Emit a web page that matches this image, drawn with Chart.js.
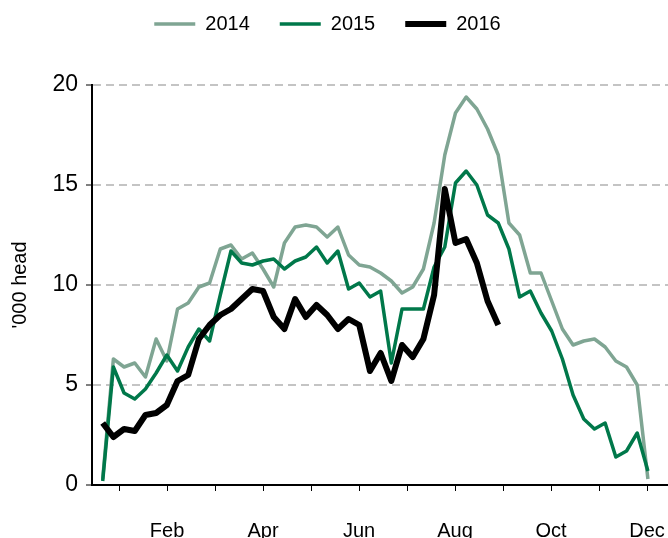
<!DOCTYPE html>
<html>
<head>
<meta charset="utf-8">
<script src="https://cdn.jsdelivr.net/npm/chart.js@4"></script>
<style>
  html, body { margin: 0; padding: 0; background: #fff; }
  #wrap { width: 668px; height: 538px; }
</style>
</head>
<body>
<div id="wrap"><canvas id="myChart"></canvas></div>
<script>
// Week numbers (x values)
var weeks = [1, 2, 3, 4, 5, 6, 7, 8, 9, 10, 11, 12, 13, 14, 15, 16, 17, 18, 19, 20, 21, 22, 23, 24, 25, 26,
             27, 28, 29, 30, 31, 32, 33, 34, 35, 36, 37, 38, 39, 40, 41, 42, 43, 44, 45, 46, 47, 48, 49, 50, 51, 52];

// '000 head per week
var head2014 = [0.3, 6.3, 5.9, 6.1, 5.4, 7.3, 6.2, 8.8, 9.1, 9.9, 10.1, 11.8, 12.0, 11.3, 11.6, 10.8, 9.9, 12.1, 12.9, 13.0,
                12.9, 12.4, 12.9, 11.5, 11.0, 10.9, 10.6, 10.2, 9.6, 9.9, 10.8, 13.1, 16.5, 18.6, 19.4, 18.8, 17.8, 16.5, 13.1, 12.5,
                10.6, 10.6, 9.2, 7.8, 7.0, 7.2, 7.3, 6.9, 6.2, 5.9, 5.0, 0.3];
var head2015 = [0.2, 5.9, 4.6, 4.3, 4.8, 5.6, 6.5, 5.7, 6.9, 7.8, 7.2, 9.5, 11.7, 11.1, 11.0, 11.2, 11.3, 10.8, 11.2, 11.4,
                11.9, 11.1, 11.7, 9.8, 10.1, 9.4, 9.7, 6.1, 8.8, 8.8, 8.8, 10.9, 11.9, 15.1, 15.7, 15.0, 13.5, 13.1, 11.8, 9.4,
                9.7, 8.6, 7.7, 6.3, 4.5, 3.3, 2.8, 3.1, 1.4, 1.7, 2.6, 0.7];
var head2016 = [3.1, 2.4, 2.8, 2.7, 3.5, 3.6, 4.0, 5.2, 5.5, 7.3, 8.0, 8.5, 8.8, 9.3, 9.8, 9.7, 8.4, 7.8, 9.3, 8.4,
                9.0, 8.5, 7.8, 8.3, 8.0, 5.7, 6.6, 5.2, 7.0, 6.4, 7.3, 9.5, 14.8, 12.1, 12.3, 11.1, 9.2, 8.0];

// Month tick labels (every other month is labelled)
var monthLabels = ['', 'Feb', '', 'Apr', '', 'Jun', '', 'Aug', '', 'Oct', '', 'Dec'];
var yTicks = [0, 5, 10, 15, 20];

var xMax = 53.88;
var monthStep = xMax / 12;
var firstTick = 2.53;

Chart.defaults.font.family = "'Liberation Sans', Arial, sans-serif";
Chart.defaults.color = '#000';

// Extra room under the legend, and nudge it a little to the left
var legendSpace = {
    id: 'legendSpace',
    beforeInit: function(chart) {
        var legend = chart.legend;
        var fit = legend.fit;
        legend.fit = function() {
            fit.call(legend);
            legend.height += 41;
            legend.lineWidths[0] += 13;
        };
    }
};

var ctx = document.getElementById('myChart').getContext('2d');

var myChart = new Chart(ctx, {
    type: 'line',
    data: {
        labels: weeks,
        datasets: [{
            label: '2014',
            data: head2014,
            borderColor: '#7FA593',
            backgroundColor: '#7FA593',
            borderWidth: 3.5,
            borderJoinStyle: 'round',
            pointRadius: 0,
            order: 2
        }, {
            label: '2015',
            data: head2015,
            borderColor: '#00784A',
            backgroundColor: '#00784A',
            borderWidth: 3.5,
            borderJoinStyle: 'round',
            pointRadius: 0,
            order: 1
        }, {
            label: '2016',
            data: head2016,
            borderColor: '#000000',
            backgroundColor: '#000000',
            borderWidth: 6,
            borderJoinStyle: 'round',
            pointRadius: 0,
            order: 0
        }]
    },
    plugins: [legendSpace],
    options: {
        responsive: true,
        maintainAspectRatio: false,
        animation: false,
        layout: { padding: { top: -16, left: 0, right: 0, bottom: 0 } },
        plugins: {
            legend: {
                position: 'top',
                labels: {
                    usePointStyle: true,
                    pointStyle: 'line',
                    pointStyleWidth: 41,
                    padding: 30,
                    font: { size: 20 },
                    sort: function(a, b) { return a.datasetIndex - b.datasetIndex; }
                }
            },
            tooltip: { enabled: false }
        },
        scales: {
            x: {
                type: 'linear',
                min: 0,
                max: xMax,
                afterBuildTicks: function(axis) {
                    axis.ticks = monthLabels.map(function(_, k) {
                        return { value: firstTick + k * monthStep };
                    });
                },
                afterFit: function(axis) {
                    axis.height = 53;
                    axis.paddingLeft = 0;
                    axis.paddingRight = 0;
                },
                ticks: {
                    autoSkip: false,
                    maxRotation: 0,
                    padding: 28,
                    font: { size: 20 },
                    callback: function(value, index) { return monthLabels[index]; }
                },
                grid: { drawOnChartArea: false, tickLength: 6, tickColor: '#000', tickWidth: 1 },
                border: { color: '#000', width: 2 }
            },
            y: {
                min: 0,
                max: 20,
                afterBuildTicks: function(axis) {
                    axis.ticks = yTicks.map(function(v) { return { value: v }; });
                },
                afterFit: function(axis) {
                    axis.width = 92;
                },
                ticks: { padding: 8, font: { size: 23 } },
                grid: {
                    color: function(c) { return c.tick && c.tick.value === 0 ? 'rgba(0,0,0,0)' : '#C4C4C4'; },
                    lineWidth: 2,
                    tickLength: 6,
                    tickColor: '#000',
                    tickWidth: 1,
                    tickBorderDash: []
                },
                border: { color: '#000', width: 2, dash: [8, 5] },
                title: { display: true, text: "'000 head", font: { size: 20 }, padding: { top: 8, bottom: 0 } }
            }
        }
    }
});
</script>
</body>
</html>
